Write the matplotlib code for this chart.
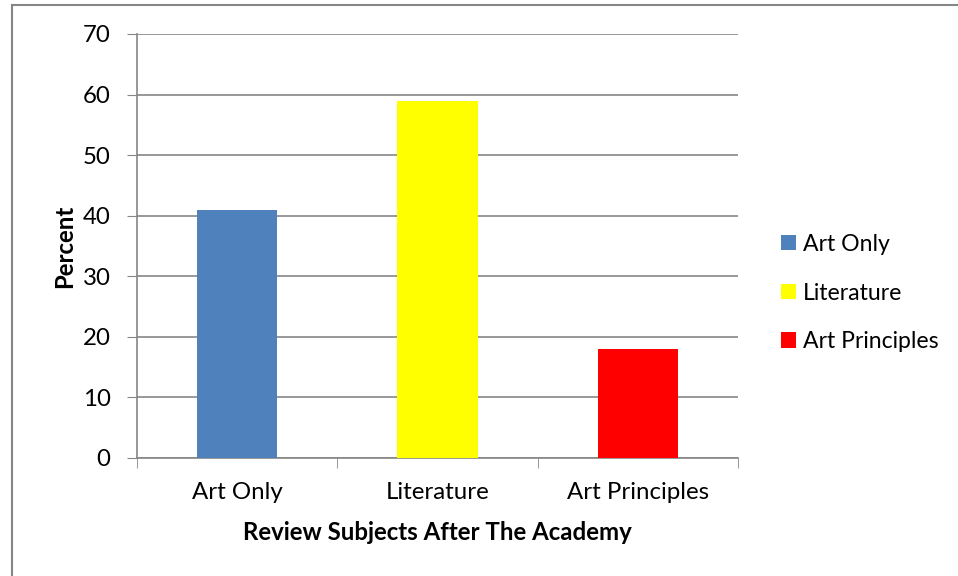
import matplotlib
matplotlib.use("Agg")
import numpy as np
from matplotlib import pyplot as plt
from matplotlib.patches import Patch
from matplotlib.lines import Line2D

categories = ["Art Only", "Literature", "Art Principles"]
values = [41, 59, 18]
colors = ["#4f81bd", "#ffff00", "#ff0000"]
yticks = [0, 10, 20, 30, 40, 50, 60, 70]

plt.rcParams['font.family'] = ['Lato', 'DejaVu Sans']
grey = "#868686"
fs = 17.3

fig = plt.figure(figsize=(9.58, 5.76), dpi=100)
ax = fig.add_axes([137 / 958, 118 / 576, (738 - 137) / 958, (458 - 34) / 576])

x = np.arange(len(categories))
ax.bar(x, values, width=0.4, color=colors, zorder=3)

ax.set_xlim(-0.5, len(categories) - 0.5)
ax.set_ylim(0, 70)
ax.set_yticks(yticks)
ax.set_xticks(x)
ax.set_xticklabels(categories)
# category boundary ticks
ax.set_xticks(np.arange(-0.5, len(categories), 1), minor=True)
ax.tick_params(axis='x', which='major', length=0, labelsize=fs, pad=17)
ax.tick_params(axis='x', which='minor', length=7, color=grey, direction='out')
ax.tick_params(axis='y', length=7, color=grey, labelsize=fs, pad=12)

ax.grid(axis='y', color=grey, linewidth=1.2, zorder=0)
for side in ['top', 'right']:
    ax.spines[side].set_visible(False)
for side in ['left', 'bottom']:
    ax.spines[side].set_color(grey)
    ax.spines[side].set_linewidth(1.2)

ax.set_ylabel("Percent", fontsize=fs, fontweight='bold', labelpad=5)
ax.set_xlabel("Review Subjects After The Academy", fontsize=fs, fontweight='bold', labelpad=13)

handles = [Patch(facecolor=c, edgecolor='none') for c in colors]
fig.legend(handles, categories, loc='center left', bbox_to_anchor=(772 / 958, 1 - 293 / 576),
           frameon=False, fontsize=16.6, handlelength=0.65, handleheight=0.65,
           handletextpad=0.3, labelspacing=1.2, borderaxespad=0)

# outer chart frame (left and top edges visible)
fig.add_artist(Line2D([12 / 958, 12 / 958], [0, 1 - 5 / 576], color=grey, linewidth=1.5))
fig.add_artist(Line2D([12 / 958, 1], [1 - 5 / 576, 1 - 5 / 576], color=grey, linewidth=1.5))

fig.savefig("out.png", dpi=100)
